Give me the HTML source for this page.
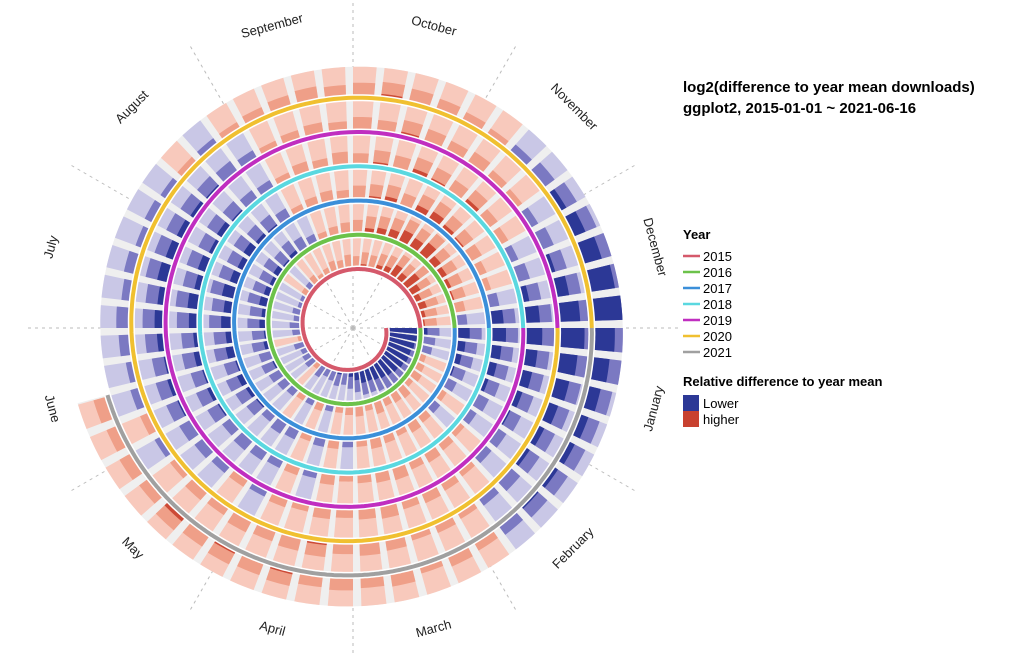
<!DOCTYPE html>
<html><head><meta charset="utf-8"><style>
body{margin:0;background:#fff;font-family:"Liberation Sans",sans-serif}
svg text{font-family:"Liberation Sans",sans-serif}
</style></head><body>
<svg id="chart" width="1024" height="657" viewBox="0 0 1024 657" xmlns="http://www.w3.org/2000/svg">
<g id="grid"></g><g id="bands"></g><g id="bars"></g><g id="lines"></g><g id="labels"></g>
<g>
<text x="683" y="92" font-size="15" font-weight="bold">log2(difference to year mean downloads)</text>
<text x="683" y="113" font-size="15" font-weight="bold">ggplot2, 2015-01-01 ~ 2021-06-16</text>
<text x="683" y="239" font-size="13" font-weight="bold">Year</text>
<g id="yearLegend"></g>
<text x="683" y="386" font-size="13" font-weight="bold">Relative difference to year mean</text>
<rect x="683" y="395" width="16" height="16" fill="#2c3896"/>
<text x="703" y="408" font-size="13">Lower</text>
<rect x="683" y="411" width="16" height="16" fill="#c8412f"/>
<text x="703" y="424" font-size="13">higher</text>
</g>
</svg>
<script>
const years=["2015","2016","2017","2018","2019","2020","2021"];
const yearColors=["#d5596b","#6cc24a","#3b8fd9","#5ad8e0","#c02ec0","#f0c030","#a0a0a0"];
const months=["January","February","March","April","May","June","July","August","September","October","November","December"];
const w2015=[-2.2,-2,-1.9,-1.8,-1.8,-1.7,-1.6,-1.5,-1.4,-1.3,-1.2,-1.2,-1.0,-0.8,-0.6,-0.7,-0.5,-0.4,-0.6,0.3,-0.5,-0.4,-0.3,-0.5,0.2,-0.4,-0.5,-0.3,-0.4,-0.2,-0.2,0.3,-0.3,0.4,0.2,0.3,0.5,0.4,0.6,0.5,0.7,0.6,0.8,0.9,1.2,1.0,1.4,1.1,0.9,1.0,0.8,0.7];
const w2016=[-0.8,-0.6,-0.5,0.3,0.4,0.5,0.3,0.6,0.5,0.4,0.6,0.3,0.5,0.4,0.3,-0.3,0.4,-0.3,0.3,-0.4,-0.5,-0.6,-0.7,-0.6,-0.8,-0.7,-0.9,-0.8,-1.0,-0.9,-0.8,-0.9,-0.7,-0.8,-0.6,-0.4,0.3,0.4,0.5,0.6,0.8,0.9,1.0,1.2,1.1,1.3,1.0,0.9,0.8,0.7,0.5,-0.5];
const w2017=[-1.2,-1.0,-0.9,-0.7,-0.5,0.3,-0.4,0.4,0.5,0.3,0.4,0.5,0.3,-0.3,0.4,-0.4,0.3,-0.5,-0.6,-0.4,-0.7,-0.8,-0.9,-0.7,-1.0,-0.9,-1.1,-1.0,-1.2,-1.0,-0.9,-1.0,-0.8,-0.7,-0.5,0.3,0.4,0.5,0.4,0.6,0.7,0.8,0.6,0.9,1.0,0.8,0.7,0.6,0.4,0.3,-0.5,-1.2];
const w2018=[-1.3,-1.1,-1.0,-0.8,-0.6,-0.4,0.3,0.4,0.5,0.4,0.6,0.5,0.4,0.3,0.5,-0.3,0.4,-0.4,-0.5,-0.6,-0.5,-0.7,-0.8,-0.7,-0.9,-0.8,-1.0,-1.1,-0.9,-1.0,-0.8,-0.9,-0.7,-0.5,-0.4,0.3,0.5,0.4,0.6,0.5,0.7,0.6,0.8,0.7,0.6,0.8,0.5,0.4,-0.4,-0.6,-0.9,-1.3];
const w2019=[-1.4,-1.2,-1.1,-0.9,-0.7,-0.5,-0.4,0.3,0.4,0.5,0.4,0.6,0.5,0.4,0.5,0.3,0.4,-0.3,0.4,-0.4,-0.5,-0.6,-0.7,-0.8,-0.7,-0.9,-1.0,-0.9,-1.1,-1.0,-0.9,-0.8,-0.7,-0.6,-0.4,0.3,0.4,0.5,0.4,0.6,0.5,0.7,0.6,0.5,0.6,0.4,0.3,-0.4,-0.6,-0.8,-1.2,-1.6];
const w2020=[-1.8,-1.5,-1.3,-1.1,-0.9,-0.8,-0.6,-0.4,0.3,0.4,0.3,0.5,0.6,0.5,0.7,0.6,0.5,0.6,0.4,0.5,0.3,-0.3,0.4,-0.4,-0.3,-0.5,-0.6,-0.4,-0.5,-0.3,-0.4,-0.3,0.3,-0.3,0.3,0.4,0.5,0.6,0.5,0.6,0.7,0.6,0.5,0.4,0.3,-0.4,-0.6,-0.9,-1.2,-1.5,-1.8,-2.0];
const w2021=[-1.6,-1.4,-1.2,-1.0,-0.9,-0.8,-0.7,-0.5,0.4,0.5,0.3,0.6,0.5,0.6,0.5,0.7,0.6,0.7,0.6,0.8,0.5,0.6,0.5,0.6];
const weekly=[w2015,w2016,w2017,w2018,w2019,w2020,w2021];
const endT=6+167/365;

const NS="http://www.w3.org/2000/svg";
const cx=353,cy=328,R0=33,K=34.3,B0=3,B1=31;
const rad=t=>R0+K*t;
const ang=t=>(t%1)*2*Math.PI;
const P=(r,a)=>[cx+r*Math.cos(a),cy+r*Math.sin(a)];
function mk(tag,attrs,parent){const e=document.createElementNS(NS,tag);for(const k in attrs)e.setAttribute(k,attrs[k]);parent.appendChild(e);return e;}
function sector(t0,t1,d0,d1){
  const n=6;let pts=[];
  for(let i=0;i<=n;i++){const t=t0+(t1-t0)*i/n;pts.push(P(rad(t)+d0,ang(t)));}
  for(let i=n;i>=0;i--){const t=t0+(t1-t0)*i/n;pts.push(P(rad(t)+d1,ang(t)));}
  return "M"+pts.map(p=>p[0].toFixed(2)+","+p[1].toFixed(2)).join("L")+"Z";
}
const grid=document.getElementById('grid');
for(let m=0;m<12;m++){
  const a=m/12*2*Math.PI;const p=P(325,a);
  const l=mk('line',{x1:cx,y1:cy,x2:p[0],y2:p[1],stroke:'#bbb','stroke-width':1,'stroke-dasharray':'3,4'},grid);
  
  
}
const bands=document.getElementById('bands');
{const n=1200;let pts=[];
 for(let i=0;i<=n;i++){const t=endT*i/n;pts.push(P(rad(t)+B0,ang(t)));}
 for(let i=n;i>=0;i--){const t=endT*i/n;pts.push(P(rad(t)+B1,ang(t)));}
 const b=mk('path',{d:"M"+pts.map(p=>p[0].toFixed(1)+","+p[1].toFixed(1)).join("L")+"Z",fill:'#efefef'},bands);
 
 }
const bars=document.getElementById('bars');
weekly.forEach((arr,y)=>{
  arr.forEach((v,w)=>{
    const t0=y+w/52,t1=Math.min(y+(w+0.75)/52,endT);
    const neg=v<0;const a=Math.abs(v);const L=B1-B0;
    const g=mk('g',{},bars);
    
    
    mk('path',{d:sector(t0,t1,B0,B1),fill:neg?'#c9c7e6':'#f8c9bc'},g);
    mk('path',{d:sector(t0,t1,B0,B0+L*Math.min(1,a/1.4)),fill:neg?'#7b79c2':'#ef9f88'},g);
    const d2=L*Math.max(0,Math.min(1,(a-0.6)/1.4));
    if(d2>0)mk('path',{d:sector(t0,t1,B0,B0+d2),fill:neg?'#2c3896':'#cc4a36'},g);
  });
});
const lines=document.getElementById('lines');
years.forEach((yr,y)=>{
  const t0=y,t1=Math.min(y+1,endT);const n=300;let pts=[];
  for(let i=0;i<=n;i++){const t=t0+(t1-t0)*i/n;pts.push(P(rad(t),ang(t)));}
  const d="M"+pts.map(p=>p[0].toFixed(1)+","+p[1].toFixed(1)).join("L");
  mk('path',{d:d,fill:'none',stroke:'#fff','stroke-width':7},lines);
  const l=mk('path',{d:d,fill:'none',stroke:yearColors[y],'stroke-width':4},lines);
  
  
});
const labels=document.getElementById('labels');
months.forEach((m,i)=>{
  const deg=15+30*i;const p=P(312,deg*Math.PI/180);
  const rot=deg<180?deg-90:deg+90;
  const t=mk('text',{x:p[0],y:p[1],'font-size':13,'text-anchor':'middle','dominant-baseline':'middle',fill:'#222',transform:`rotate(${rot} ${p[0]} ${p[1]})`},labels);
  t.textContent=m;
  
  
});
const yl=document.getElementById('yearLegend');
years.forEach((yr,i)=>{
  const y=256+16*i;
  const l=mk('line',{x1:683,y1:y,x2:700,y2:y,stroke:yearColors[i],'stroke-width':2.5},yl);
  
  
  const t=mk('text',{x:703,y:y+5,'font-size':13},yl);
  t.textContent=yr;
  
  
});
</script>
</body></html>
